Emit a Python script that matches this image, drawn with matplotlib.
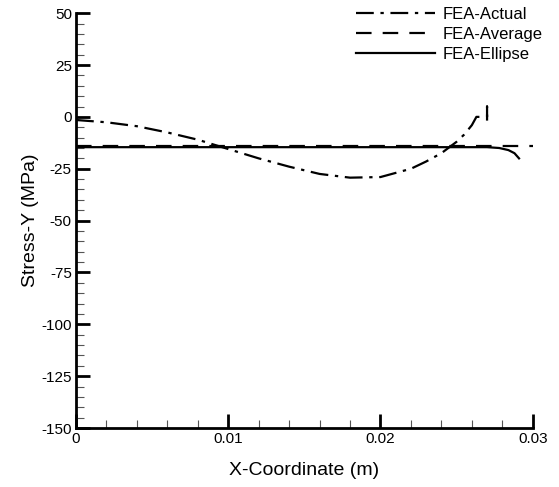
import matplotlib
matplotlib.use("Agg")
import matplotlib.pyplot as plt
from matplotlib.ticker import MultipleLocator

plt.rcParams['font.family'] = ['Liberation Sans', 'DejaVu Sans']
plt.rcParams['axes.unicode_minus'] = False

# FEA-Actual (dash-dot)
x_actual = [0, 0.002, 0.004, 0.006, 0.008, 0.010, 0.012, 0.014, 0.016, 0.018,
            0.020, 0.022, 0.023, 0.024, 0.025, 0.0255, 0.026, 0.0263, 0.0268,
            0.0270, 0.0270, 0.0270]
y_actual = [-1.5, -2.6, -4.5, -7.5, -11, -15.5, -20, -24, -27.5, -29.3,
            -29, -25, -21.5, -17.5, -12, -8.5, -4, 0, 0,
            0, 5, -1.8]

# FEA-Average (dashed)
x_avg = [0, 0.030]
y_avg = [-13.8, -13.8]

# FEA-Ellipse (solid)
x_ell = [0, 0.027, 0.0278, 0.0284, 0.0288, 0.0291]
y_ell = [-14.6, -14.6, -15, -16, -17.5, -20]

fig = plt.figure(figsize=(5.59, 4.87), dpi=100)
ax = fig.add_axes([0.136, 0.121, 0.817, 0.852])

ax.plot(x_actual, y_actual, color='black', lw=1.6, dashes=(8, 3, 1.5, 3), label='FEA-Actual')
ax.plot(x_avg, y_avg, color='black', lw=1.6, dashes=(7, 5), label='FEA-Average')
ax.plot(x_ell, y_ell, color='black', lw=1.6, label='FEA-Ellipse')

ax.set_xlim(0, 0.03)
ax.set_ylim(-150, 50)
ax.xaxis.set_minor_locator(MultipleLocator(0.002))
ax.yaxis.set_major_locator(MultipleLocator(25))
ax.yaxis.set_minor_locator(MultipleLocator(5))
ax.set_xticks([0, 0.01, 0.02, 0.03])
ax.set_xticklabels(['0', '0.01', '0.02', '0.03'])

for s in ['top', 'right']:
    ax.spines[s].set_visible(False)
for s in ['left', 'bottom']:
    ax.spines[s].set_linewidth(2)

ax.tick_params(which='major', direction='in', length=10, width=2, labelsize=11, pad=3)
ax.tick_params(which='minor', direction='in', length=6, width=0.8, color='#555555')

ax.set_xlabel('X-Coordinate (m)', fontsize=14, labelpad=11)
ax.set_ylabel('Stress-Y (MPa)', fontsize=14, labelpad=2)

ax.legend(loc='upper right', bbox_to_anchor=(1.055, 1.052), frameon=False, fontsize=12,
          handlelength=4.7, handletextpad=0.5, labelspacing=0.3)

fig.savefig('out.png', dpi=100)
